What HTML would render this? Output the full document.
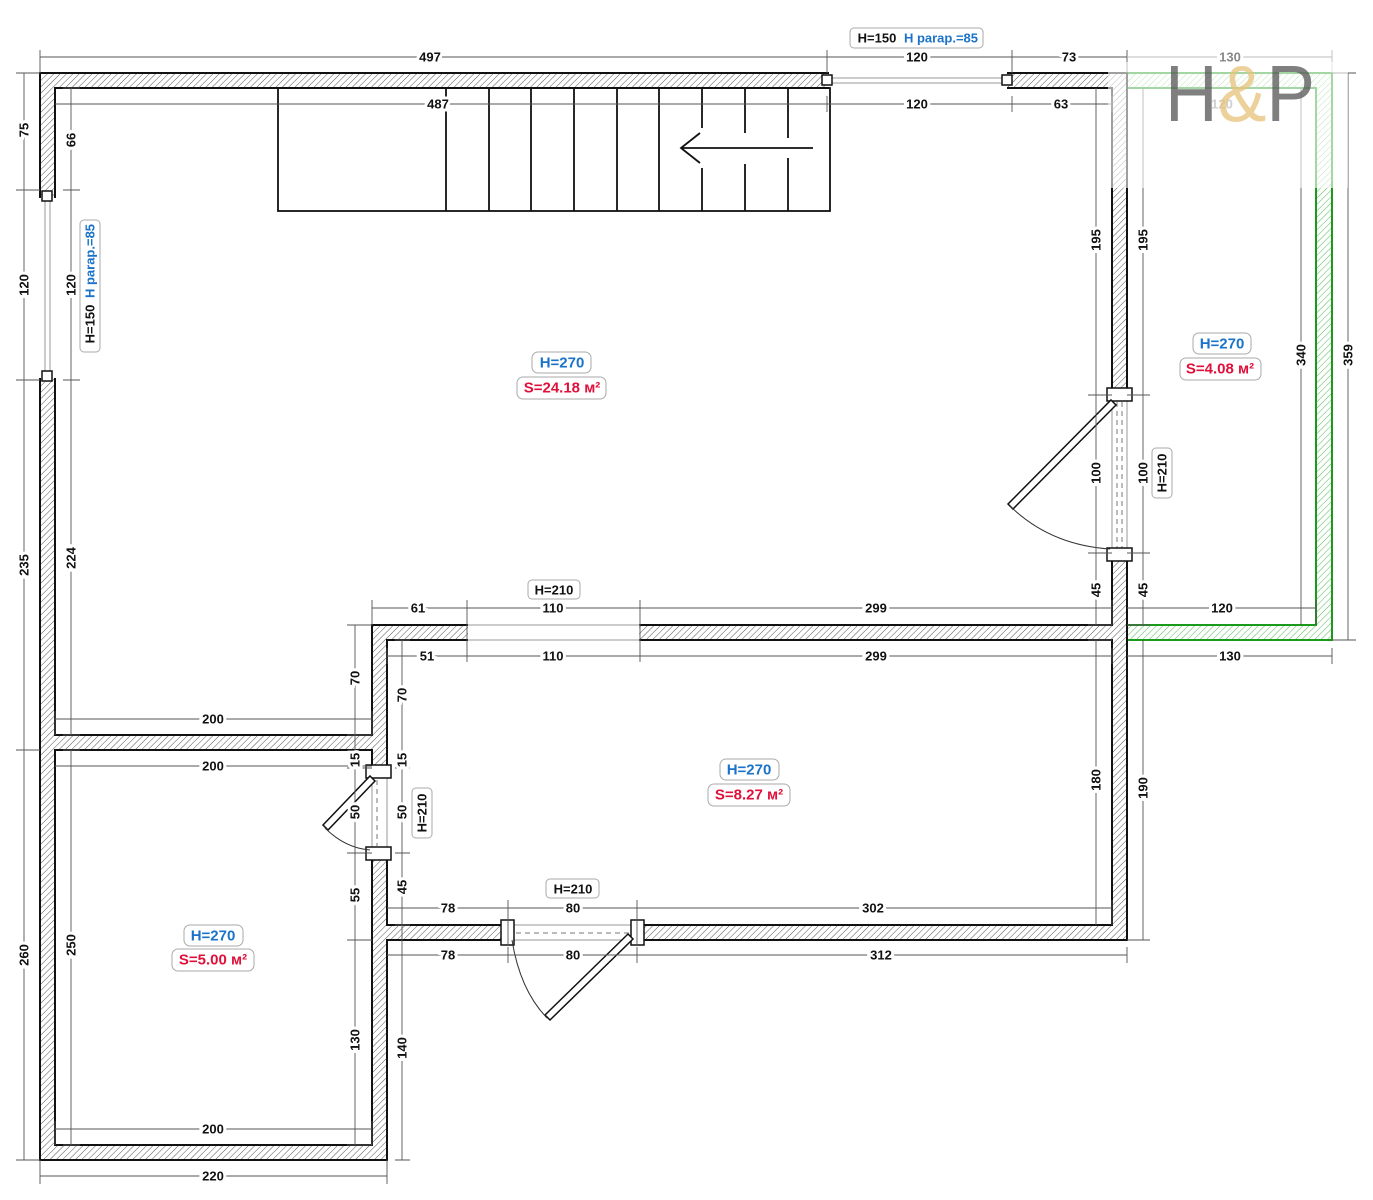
<!DOCTYPE html>
<html><head><meta charset="utf-8"><style>
html,body{margin:0;padding:0;background:#fff}
svg{display:block}
.d{stroke:#555;stroke-width:0.9;fill:none}
.t{font-family:"Liberation Sans",sans-serif;font-size:13px;font-weight:bold;fill:#111;paint-order:stroke;stroke:#fff;stroke-width:6px;text-anchor:middle;dominant-baseline:central}
.b{fill:#fff;stroke:#aaa;stroke-width:1}
.l{font-family:"Liberation Sans",sans-serif;font-size:13px;font-weight:bold;fill:#111;text-anchor:middle;dominant-baseline:central}
.bl{fill:#1a73c9}.rd{fill:#e0103a}
.big{font-size:15px}
</style></head><body>
<svg width="1373" height="1200" viewBox="0 0 1373 1200" xmlns="http://www.w3.org/2000/svg">
<defs>
<pattern id="h" width="4.5" height="4.5" patternUnits="userSpaceOnUse" patternTransform="rotate(45)">
<line x1="0" y1="0" x2="0" y2="5" stroke="#555" stroke-width="1"/></pattern>
<pattern id="g" width="4.5" height="4.5" patternUnits="userSpaceOnUse" patternTransform="rotate(45)">
<line x1="0" y1="0" x2="0" y2="5" stroke="#5b5" stroke-width="1"/></pattern>
</defs>
<path fill="url(#g)" stroke="#1a9a1a" stroke-width="2" fill-rule="evenodd" d="M1127 73H1332V640H1127Z M1127 88H1316V625H1127Z"/>
<path fill="url(#h)" stroke="#111" stroke-width="2" fill-rule="evenodd" d="M40 73H1127V940H387V1160H40Z M55 88H1112V625H372V735H55Z M55 750H372V1145H55Z M387 640H1112V925H387Z"/>
<g fill="#fff">
<rect x="829" y="71" width="178" height="19"/>
<rect x="38" y="198" width="19" height="180"/>
<rect x="468" y="623" width="171" height="19"/>
<rect x="1110" y="400" width="19" height="150"/>
<rect x="370" y="777" width="19" height="72"/>
<rect x="514" y="923" width="118" height="19"/>
</g>
<g stroke="#999" stroke-width="1" fill="none">
<line x1="468" y1="625" x2="640" y2="625"/><line x1="468" y1="640" x2="640" y2="640"/>
<line x1="829" y1="78" x2="1005" y2="78"/><line x1="829" y1="83" x2="1005" y2="83"/>
<line x1="45" y1="200" x2="45" y2="373"/><line x1="50" y1="200" x2="50" y2="373"/>
<line x1="1112" y1="400" x2="1112" y2="550"/><line x1="1127" y1="400" x2="1127" y2="550"/>
<line x1="372" y1="777" x2="372" y2="849"/><line x1="387" y1="777" x2="387" y2="849"/>
<line x1="514" y1="925" x2="632" y2="925"/><line x1="514" y1="940" x2="632" y2="940"/>
</g>
<g stroke="#777" stroke-width="1" stroke-dasharray="5,4" fill="none">
<line x1="1117" y1="402" x2="1117" y2="548"/><line x1="1122" y1="402" x2="1122" y2="548"/>
<line x1="377" y1="780" x2="377" y2="846"/>
<line x1="516" y1="933" x2="630" y2="933"/>
</g>
<g fill="#fff" stroke="#111" stroke-width="1.5">
<rect x="822" y="75" width="10" height="10"/><rect x="1002" y="75" width="10" height="10"/>
<rect x="42" y="191" width="10" height="10"/><rect x="42" y="371" width="10" height="10"/>
<path d="M1107 388h25v13h-25z"/><path d="M1107 548h25v13h-25z"/>
<path d="M366 765h25v13h-25z"/><path d="M366 847h25v13h-25z"/>
<path d="M501 920h13v25h-13z"/><path d="M631 920h13v25h-13z"/>
</g>
<g fill="#fff" stroke="#111" stroke-width="1.5">
<polygon points="1111,400 1116,405 1013,509 1008,504"/>
<polygon points="370,776 375,781 328,830 323,825"/>
<polygon points="628,934 633,939 550,1020 545,1015"/>
</g>
<g stroke="#333" stroke-width="1" fill="none">
<path d="M1010 506 Q1050 545 1110 549"/>
<path d="M325 828 Q345 848 370 850"/>
<path d="M512 940 Q520 990 547 1018"/>
</g>
<g stroke="#111" stroke-width="1.8" fill="none">
<rect x="278" y="88" width="552" height="123"/>
<line x1="446" y1="88" x2="446" y2="211"/><line x1="489" y1="88" x2="489" y2="211"/>
<line x1="531" y1="88" x2="531" y2="211"/><line x1="574" y1="88" x2="574" y2="211"/>
<line x1="617" y1="88" x2="617" y2="211"/><line x1="659" y1="88" x2="659" y2="211"/>
<path d="M702 88V128M702 168V211M745 88V133M745 164V211M788 88V138M788 158V211"/>
<path d="M813 148H681M700 133L681 148L700 163"/>
</g>
<g class="d">
<path d="M40 57H1127M40 50V73M1127 50V73M827 50V73M1012 50V73"/>
<path d="M1127 57H1332M1332 50V73" stroke="#bbb"/>
<path d="M55 104H1112M827 96V112M1012 96V112M1112 96V112"/>
<path d="M24 73V1160M16 73H40M16 190H40M16 380H40M16 750H40M16 1160H40"/>
<path d="M71 88V735M63 88H80M63 190H80M63 380H80M63 735H80M71 750V1145M63 750H80M63 1145H80"/>
<path d="M1096 88V625M1088 395H1112M1088 553H1112M1096 640V925M1088 625H1112M1088 640H1112"/>
<path d="M1143 88V625M1127 395H1150M1127 553H1150M1143 640V940M1127 625H1150M1127 940H1150"/>
<path d="M1301 88V625M1348 73V640M1332 640H1356M1332 73H1356"/>
<path d="M372 608H1112M372 600V625M467 600V662M640 600V662M1112 600V625"/>
<path d="M1127 608H1316M1316 600V625"/>
<path d="M387 656H1112M387 648V664M1112 648V664M1127 656H1332M1332 648V664"/>
<path d="M355 625V1145M347 625H372M347 735H372M347 768H372M347 853H372M347 940H372M347 1145H372"/>
<path d="M402 640V1160M395 640H410M395 768H410M395 853H410M395 925H410M395 1160H410"/>
<path d="M55 719H372M55 711V735M372 711V735"/>
<path d="M55 766H372M55 1129H372M55 1121V1145M372 1121V1145"/>
<path d="M40 1176H387M40 1160V1184M387 1160V1184"/>
<path d="M387 908H1112M508 900V945M637 900V945M1112 900V925"/>
<path d="M387 955H1127M508 947V963M637 947V963M1127 947V963"/>
</g>
<g class="t">
<text x="430" y="57">497</text><text x="917" y="57">120</text><text x="1069" y="57">73</text>
<text x="438" y="104">487</text><text x="917" y="104">120</text><text x="1061" y="104">63</text>
<text x="418" y="608">61</text><text x="553" y="608">110</text><text x="876" y="608">299</text><text x="1222" y="608">120</text>
<text x="427" y="656">51</text><text x="553" y="656">110</text><text x="876" y="656">299</text><text x="1230" y="656">130</text>
<text x="213" y="719">200</text><text x="213" y="766">200</text><text x="213" y="1129">200</text><text x="213" y="1176">220</text>
<text x="448" y="908">78</text><text x="573" y="908">80</text><text x="873" y="908">302</text>
<text x="448" y="955">78</text><text x="573" y="955">80</text><text x="881" y="955">312</text>
<text transform="translate(24 130) rotate(-90)">75</text>
<text transform="translate(24 285) rotate(-90)">120</text>
<text transform="translate(24 565) rotate(-90)">235</text>
<text transform="translate(24 955) rotate(-90)">260</text>
<text transform="translate(71 140) rotate(-90)">66</text>
<text transform="translate(71 285) rotate(-90)">120</text>
<text transform="translate(71 558) rotate(-90)">224</text>
<text transform="translate(71 945) rotate(-90)">250</text>
<text transform="translate(1096 240) rotate(-90)">195</text>
<text transform="translate(1096 473) rotate(-90)">100</text>
<text transform="translate(1096 590) rotate(-90)">45</text>
<text transform="translate(1096 780) rotate(-90)">180</text>
<text transform="translate(1143 240) rotate(-90)">195</text>
<text transform="translate(1143 473) rotate(-90)">100</text>
<text transform="translate(1143 590) rotate(-90)">45</text>
<text transform="translate(1143 788) rotate(-90)">190</text>
<text transform="translate(1301 355) rotate(-90)">340</text>
<text transform="translate(1348 355) rotate(-90)">359</text>
<text transform="translate(355 678) rotate(-90)">70</text>
<text transform="translate(355 760) rotate(-90)">15</text>
<text transform="translate(355 812) rotate(-90)">50</text>
<text transform="translate(355 895) rotate(-90)">55</text>
<text transform="translate(355 1040) rotate(-90)">130</text>
<text transform="translate(402 695) rotate(-90)">70</text>
<text transform="translate(402 760) rotate(-90)">15</text>
<text transform="translate(402 812) rotate(-90)">50</text>
<text transform="translate(402 887) rotate(-90)">45</text>
<text transform="translate(402 1048) rotate(-90)">140</text>
<text x="1230" y="57" style="fill:#888">130</text><text x="1222" y="104" style="fill:#888">120</text>
</g>
<rect x="1108" y="62" width="240" height="126" fill="#fff" opacity="0.6"/>
<text x="1165" y="121" font-family="Liberation Sans,sans-serif" font-size="80" textLength="150" lengthAdjust="spacingAndGlyphs" fill="#555" opacity="0.75">H<tspan fill="#e8c27a">&amp;</tspan>P</text>
<rect class="b" x="850" y="28" width="133" height="20" rx="4"/>
<text class="l" x="877" y="38">H=150</text><text class="l bl" x="941" y="38">H parap.=85</text>
<g transform="translate(90 286) rotate(-90)">
<rect class="b" x="-66" y="-10" width="132" height="20" rx="4"/>
<text class="l" x="-38" y="0">H=150</text><text class="l bl" x="25" y="0">H parap.=85</text>
</g>
<rect class="b" x="528" y="580" width="52" height="19" rx="4"/><text class="l" x="554" y="590">H=210</text>
<rect class="b" x="546" y="879" width="53" height="19" rx="4"/><text class="l" x="573" y="889">H=210</text>
<g transform="translate(1162 473) rotate(-90)"><rect class="b" x="-25" y="-10" width="50" height="20" rx="4"/><text class="l" x="0" y="0">H=210</text></g>
<g transform="translate(422 813) rotate(-90)"><rect class="b" x="-25" y="-10" width="50" height="20" rx="4"/><text class="l" x="0" y="0">H=210</text></g>
<rect class="b" x="532" y="352" width="59" height="21" rx="6"/><text class="l bl" x="562" y="363" style="font-size:15px">H=270</text>
<rect class="b" x="517" y="377" width="89" height="22" rx="6"/><text class="l rd" x="562" y="388" style="font-size:15px">S=24.18 м²</text>
<rect class="b" x="1193" y="333" width="58" height="21" rx="6"/><text class="l bl" x="1222" y="344" style="font-size:15px">H=270</text>
<rect class="b" x="1180" y="358" width="81" height="22" rx="6"/><text class="l rd" x="1220" y="369" style="font-size:15px">S=4.08 м²</text>
<rect class="b" x="720" y="759" width="59" height="21" rx="6"/><text class="l bl" x="749" y="770" style="font-size:15px">H=270</text>
<rect class="b" x="708" y="784" width="82" height="22" rx="6"/><text class="l rd" x="749" y="795" style="font-size:15px">S=8.27 м²</text>
<rect class="b" x="184" y="925" width="59" height="21" rx="6"/><text class="l bl" x="213" y="936" style="font-size:15px">H=270</text>
<rect class="b" x="172" y="949" width="82" height="22" rx="6"/><text class="l rd" x="213" y="960" style="font-size:15px">S=5.00 м²</text>
</svg>
</body></html>
